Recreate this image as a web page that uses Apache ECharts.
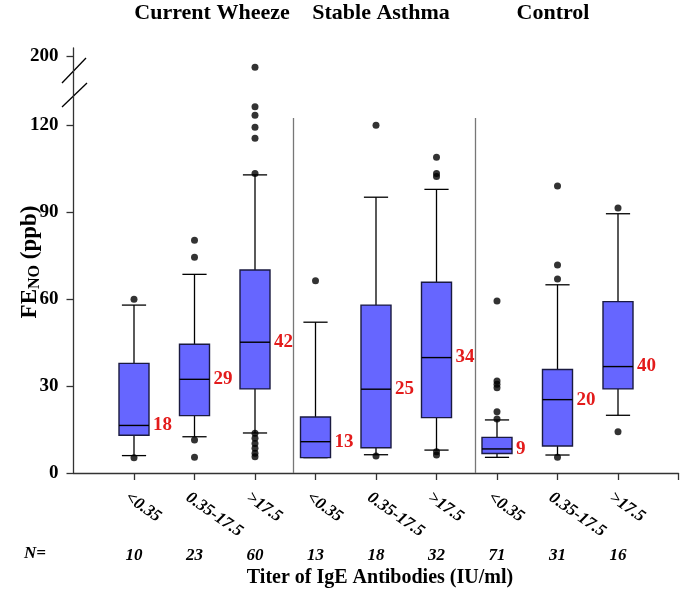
<!DOCTYPE html>
<html>
<head>
<meta charset="utf-8">
<script src="https://cdn.jsdelivr.net/npm/echarts@6/dist/echarts.min.js"></script>
<style>html,body{margin:0;padding:0;background:#fff}#c{width:680px;height:589px}</style>
</head>
<body>
<div id="c"></div>
<script>
// ---- data ----
const groups = ['Current Wheeze', 'Stable Asthma', 'Control'];
const categories = ['<0.35', '0.35-17.5', '>17.5', '<0.35', '0.35-17.5', '>17.5', '<0.35', '0.35-17.5', '>17.5'];
const nCounts = [10, 23, 60, 13, 18, 32, 71, 31, 16];
const medianLabels = [18, 29, 42, 13, 25, 34, 9, 20, 40];
const lowerWhisker = [6.0, 12.5, 13.8, 5.3, 6.3, 7.9, 5.4, 6.2, 19.9];
const q1 = [13.0, 19.8, 29.0, 5.3, 8.7, 19.1, 6.7, 9.3, 29.0];
const median = [16.4, 32.3, 45.1, 10.8, 28.9, 39.8, 8.3, 25.3, 36.7];
const q3 = [37.8, 44.4, 70.0, 19.3, 57.9, 65.8, 12.3, 35.7, 59.1];
const upperWhisker = [57.9, 68.5, 102.8, 52.0, 95.1, 97.8, 18.3, 64.9, 89.4];
const outliers = [
  [59.9, 5.3],
  [80.3, 74.4, 11.4, 5.4],
  [185.9, 126.3, 123.4, 119.2, 115.4, 103.3, 13.7, 12.0, 10.2, 8.5, 6.8, 5.6],
  [66.3],
  [119.9, 5.9],
  [108.9, 103.3, 102.2, 7.3, 6.2],
  [59.3, 31.7, 30.6, 29.4, 21.1, 18.6],
  [99.0, 71.7, 66.9, 5.4],
  [91.4, 14.2]
];
const yTicksLower = [0, 30, 60, 90, 120];
const yTicksUpper = [200];

// ---- build ----
const FONT = 'Liberation Serif';
const BREAK_LOW = 130, BREAK_HIGH = 180;
const LABEL_SHIFT = 0.115; // rotated tick labels start slightly left of their tick
const boxData = categories.map((c, i) => [i + 1, lowerWhisker[i], q1[i], median[i], q3[i], upperWhisker[i], medianLabels[i]]);
const outLow = [], outHigh = [];
outliers.forEach((arr, i) => arr.forEach(v => (v > BREAK_LOW ? outHigh : outLow).push([i + 1, v])));
const catPos = categories.map((c, i) => i + 1);

function renderBox(params, api) {
  const x = api.value(0);
  const lw = api.value(1), a = api.value(2), m = api.value(3), b = api.value(4), uw = api.value(5);
  const lab = api.value(6);
  const unit = api.size([1, 0])[0];
  const bw = unit * 0.248, cw = unit * 0.2;
  const p = v => api.coord([x, v]);
  const cx = p(m)[0];
  const yLw = p(lw)[1], yA = p(a)[1], yM = p(m)[1], yB = p(b)[1], yUw = p(uw)[1];
  const ls = { stroke: '#000', lineWidth: 1.3 };
  return {
    type: 'group',
    children: [
      { type: 'line', shape: { x1: cx, y1: yB, x2: cx, y2: yUw }, style: ls },
      { type: 'line', shape: { x1: cx, y1: yA, x2: cx, y2: yLw }, style: ls },
      { type: 'line', shape: { x1: cx - cw, y1: yUw, x2: cx + cw, y2: yUw }, style: ls },
      { type: 'line', shape: { x1: cx - cw, y1: yLw, x2: cx + cw, y2: yLw }, style: ls },
      { type: 'rect', shape: { x: cx - bw, y: yB, width: 2 * bw, height: yA - yB }, style: { fill: '#6666ff', stroke: '#1a1a40', lineWidth: 1.4 } },
      { type: 'line', shape: { x1: cx - bw, y1: yM, x2: cx + bw, y2: yM }, style: { stroke: '#000', lineWidth: 1.4 } },
      { type: 'text', x: cx + bw + 4, y: yM, style: { text: String(lab), fill: '#e31b1b', font: 'bold 19px ' + FONT, verticalAlign: 'middle', align: 'left' } }
    ]
  };
}

const chart = echarts.init(document.getElementById('c'), null, { renderer: 'canvas' });
const axisLineStyle = { color: '#333', width: 1.3 };
chart.setOption({
  animation: false,
  backgroundColor: '#fff',
  grid: [
    { left: 73.5, right: 1.5, top: 96, bottom: 116 },
    { left: 73.5, right: 1.5, top: 48, height: 24 }
  ],
  xAxis: [
    {
      gridIndex: 0, type: 'value', min: 0, max: 10, interval: 1, position: 'bottom',
      axisLine: { show: true, onZero: false, lineStyle: axisLineStyle },
      axisTick: { show: true, length: 7, customValues: [1, 2, 3, 4, 5, 6, 7, 8, 9, 10], lineStyle: axisLineStyle },
      axisLabel: { show: false },
      splitLine: { show: false }
    },
    {
      gridIndex: 0, type: 'value', min: 0, max: 10, interval: 1, position: 'bottom', offset: 66,
      axisLine: { show: false }, axisTick: { show: false },
      axisLabel: {
        customValues: catPos, formatter: v => String(nCounts[Math.round(v) - 1] ?? ''),
        margin: 8, fontFamily: FONT, fontStyle: 'italic', fontWeight: 'bold', fontSize: 17, color: '#000'
      },
      splitLine: { show: false }
    },
    { gridIndex: 1, type: 'value', min: 0, max: 10, show: false },
    {
      gridIndex: 0, type: 'value', min: LABEL_SHIFT, max: 10 + LABEL_SHIFT, position: 'bottom',
      axisLine: { show: false, onZero: false }, axisTick: { show: false },
      axisLabel: {
        customValues: catPos, formatter: v => categories[Math.round(v) - 1] || '',
        rotate: -35, margin: 23, fontFamily: FONT, fontStyle: 'italic', fontWeight: 'bold', fontSize: 17, color: '#000'
      },
      splitLine: { show: false }
    }
  ],
  yAxis: [
    {
      gridIndex: 0, type: 'value', min: 0, max: BREAK_LOW, interval: 30,
      axisLine: { show: true, lineStyle: axisLineStyle },
      axisTick: { show: true, length: 7, customValues: yTicksLower, lineStyle: axisLineStyle },
      axisLabel: { customValues: yTicksLower, margin: 15, fontFamily: FONT, fontWeight: 'bold', fontSize: 19, color: '#000' },
      splitLine: { show: false }
    },
    {
      gridIndex: 1, type: 'value', min: BREAK_HIGH, max: 210,
      axisLine: { show: true, lineStyle: axisLineStyle },
      axisTick: { show: true, length: 7, customValues: yTicksUpper, lineStyle: axisLineStyle },
      axisLabel: { customValues: yTicksUpper, margin: 15, fontFamily: FONT, fontWeight: 'bold', fontSize: 19, color: '#000' },
      splitLine: { show: false }
    }
  ],
  series: [
    {
      type: 'custom', xAxisIndex: 0, yAxisIndex: 0, renderItem: renderBox, data: boxData, z: 3,
      markLine: {
        silent: true, symbol: 'none', label: { show: false },
        lineStyle: { color: '#777', width: 1.3, type: 'solid' },
        data: [
          [{ coord: [3.63, 0] }, { coord: [3.63, 122.4] }],
          [{ coord: [6.64, 0] }, { coord: [6.64, 122.4] }]
        ]
      }
    },
    { type: 'scatter', xAxisIndex: 0, yAxisIndex: 0, data: outLow, symbolSize: 7, itemStyle: { color: '#000' }, z: 4, clip: false },
    { type: 'scatter', xAxisIndex: 2, yAxisIndex: 1, data: outHigh, symbolSize: 7, itemStyle: { color: '#000' }, z: 4, clip: false }
  ],
  graphic: [
    { type: 'text', x: 212, y: 13, style: { text: groups[0], font: 'bold 22px ' + FONT, fill: '#000', align: 'center', verticalAlign: 'middle' } },
    { type: 'text', x: 381, y: 13, style: { text: groups[1], font: 'bold 22px ' + FONT, fill: '#000', align: 'center', verticalAlign: 'middle' } },
    { type: 'text', x: 553, y: 13, style: { text: groups[2], font: 'bold 22px ' + FONT, fill: '#000', align: 'center', verticalAlign: 'middle' } },
    { type: 'text', x: 35, y: 554, style: { text: 'N=', font: 'italic bold 17px ' + FONT, fill: '#000', align: 'center', verticalAlign: 'middle' } },
    { type: 'text', x: 380, y: 578, style: { text: 'Titer of IgE Antibodies (IU/ml)', font: 'bold 20px ' + FONT, fill: '#000', align: 'center', verticalAlign: 'middle' } },
    {
      type: 'text', x: 30, y: 262, rotation: Math.PI / 2,
      style: {
        text: '{a|FE}{s|NO}{a| (ppb)}', align: 'center', verticalAlign: 'middle', fill: '#000',
        rich: { a: { font: 'bold 23px ' + FONT }, s: { font: 'bold 16px ' + FONT, padding: [10, 0, 0, 0] } }
      }
    },
    { type: 'line', shape: { x1: 73.5, y1: 72, x2: 73.5, y2: 96 }, style: { stroke: '#333', lineWidth: 1.3 } },
    { type: 'line', shape: { x1: 62, y1: 83, x2: 86, y2: 58 }, style: { stroke: '#000', lineWidth: 1.3 } },
    { type: 'line', shape: { x1: 62, y1: 107, x2: 87, y2: 83 }, style: { stroke: '#000', lineWidth: 1.3 } }
  ]
});
</script>
</body>
</html>
